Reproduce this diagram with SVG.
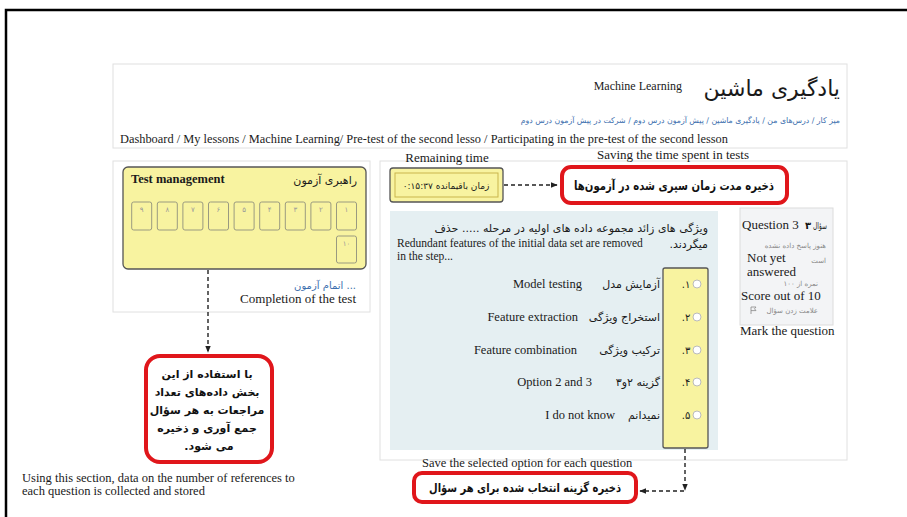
<svg xmlns="http://www.w3.org/2000/svg" width="907" height="517" viewBox="0 0 907 517">
<defs>
<style>
.en{font-family:"Liberation Serif","Times New Roman",serif;fill:#1a1a1a}
.fa{font-family:"DejaVu Sans",sans-serif;fill:#1a1a1a}
.fab{font-family:"DejaVu Sans",sans-serif;font-weight:bold;fill:#111}
.panel{fill:#fff;stroke:#e0e0e0;stroke-width:1}
.yel{fill:#f8f3a0;stroke:#555;stroke-width:1.3}
.red{fill:#fff;stroke:#e0161b;stroke-width:4}
.dash{fill:none;stroke:#222;stroke-width:1.4;stroke-dasharray:4 3}
.btn{fill:#f8f3a0;stroke:#9a9a80;stroke-width:1}
.dig{font-family:"DejaVu Sans",sans-serif;font-size:7px;fill:#999;text-anchor:middle}
.radio{fill:#fff;stroke:#bbb;stroke-width:1}
.gray{font-family:"DejaVu Sans",sans-serif;font-size:7px;fill:#888;text-anchor:end}
.blue{font-family:"DejaVu Sans",sans-serif;fill:#3d6fae}
</style>
<marker id="ah" viewBox="0 0 10 10" refX="9" refY="5" markerUnits="userSpaceOnUse" markerWidth="7" markerHeight="7" orient="auto"><path d="M0,1 L10,5 L0,9 z" fill="#222"/></marker>
</defs>
<rect x="0" y="0" width="907" height="517" fill="#fff"/>
<rect x="6" y="10" width="920" height="530" fill="none" stroke="#000" stroke-width="2.5"/>

<g id="header">
<rect class="panel" x="113" y="64" width="734" height="84"/>
<text class="fa" x="840" y="96" font-size="22" text-anchor="end">یادگیری ماشین</text>
<text class="en" x="682" y="90" font-size="12" text-anchor="end">Machine Learning</text>
<text class="blue" x="840" y="123" font-size="7.8" text-anchor="end">میز کار / درس‌های من / یادگیری ماشین / پیش آزمون درس دوم / شرکت در پیش آزمون درس دوم</text>
<text class="en" x="120" y="143" font-size="13" textLength="608" lengthAdjust="spacingAndGlyphs">Dashboard / My lessons / Machine Learning/ Pre-test of the second lesso / Participating in the pre-test of the second lesson</text>
</g>

<g id="test-management">
<rect class="panel" x="113" y="161" width="257" height="151"/>
<rect class="yel" x="123" y="167" width="243" height="102" rx="5"/>
<text class="en" x="131" y="183" font-size="12.5" font-weight="bold">Test management</text>
<text class="fa" x="357" y="184" font-size="11" fill="#444" text-anchor="end">راهبری آزمون</text>
<g>
<rect class="btn" x="131.7" y="202" width="20" height="28" rx="2"/><text class="dig" x="141.7" y="212">۹</text>
<rect class="btn" x="157.3" y="202" width="20" height="28" rx="2"/><text class="dig" x="167.3" y="212">۸</text>
<rect class="btn" x="182.9" y="202" width="20" height="28" rx="2"/><text class="dig" x="192.9" y="212">۷</text>
<rect class="btn" x="208.5" y="202" width="20" height="28" rx="2"/><text class="dig" x="218.5" y="212">۶</text>
<rect class="btn" x="234.1" y="202" width="20" height="28" rx="2"/><text class="dig" x="244.1" y="212">۵</text>
<rect class="btn" x="259.7" y="202" width="20" height="28" rx="2"/><text class="dig" x="269.7" y="212">۴</text>
<rect class="btn" x="285.3" y="202" width="20" height="28" rx="2" stroke="#4a4a30" stroke-width="2.5"/><text class="dig" x="295.3" y="212">۳</text>
<rect class="btn" x="310.9" y="202" width="20" height="28" rx="2"/><text class="dig" x="320.9" y="212">۲</text>
<rect class="btn" x="336.5" y="202" width="20" height="28" rx="2"/><text class="dig" x="346.5" y="212">۱</text>
<rect class="btn" x="336.5" y="236" width="20" height="27" rx="2"/><text class="dig" x="346.5" y="246">۱۰</text>
</g>
<text class="blue" x="356" y="289" font-size="10" text-anchor="end">اتمام آزمون ...</text>
<text class="en" x="356" y="303" font-size="13" text-anchor="end">Completion of the test</text>
</g>

<g id="references-note">
<rect class="red" x="146" y="356" width="126" height="106" rx="14"/>
<text class="fab" font-size="11" text-anchor="middle">
<tspan x="209" y="378">با استفاده از این</tspan>
<tspan x="209" y="396">بخش داده‌های تعداد</tspan>
<tspan x="209" y="414">مراجعات به هر سؤال</tspan>
<tspan x="209" y="432">جمع آوری و ذخیره</tspan>
<tspan x="209" y="450">می شود.&#x200F;</tspan>
</text>
<text class="en" x="22" y="482" font-size="12.5">Using this section, data on the number of references to</text>
<text class="en" x="22" y="495" font-size="12.5">each question is collected and stored</text>
</g>

<g id="quiz-panel">
<rect class="panel" x="380" y="161" width="467" height="299"/>
<text class="en" x="447" y="162" font-size="13" text-anchor="middle">Remaining time</text>
<text class="en" x="673" y="159" font-size="13" text-anchor="middle">Saving the time spent in tests</text>
</g>

<g id="timer">
<rect class="yel" x="390" y="168" width="113" height="34" rx="3"/>
<rect x="395" y="173" width="103" height="24" fill="none" stroke="#c9b54c" stroke-width="1"/>
<text class="fa" x="446" y="189" font-size="9" fill="#a08c3c" text-anchor="middle">زمان باقیمانده ۰:۱۵:۳۷</text>
</g>

<g id="time-note">
<rect class="red" x="562" y="167" width="225" height="36" rx="9"/>
<text class="fab" x="674" y="190" font-size="12.5" text-anchor="middle" textLength="200" lengthAdjust="spacingAndGlyphs">ذخیره مدت زمان سپری شده در آزمون‌ها</text>
</g>

<g id="question">
<rect x="390" y="211" width="328" height="239" fill="#e5eff2"/>
<text class="fa" x="708" y="232" font-size="11" text-anchor="end">ویژگی های زائد مجموعه داده های اولیه در مرحله ..... حذف</text>
<text class="fa" x="708" y="248" font-size="11" text-anchor="end">میگردند.&#x200F;</text>
<text class="en" x="397" y="247" font-size="11.5">Redundant features of the initial data set are removed</text>
<text class="en" x="397" y="260" font-size="11.5">in the step...</text>
</g>

<g id="options">
<rect class="yel" x="663" y="268" width="45" height="180" rx="2"/>
<g class="fa" font-size="10" fill="#666" text-anchor="middle">
<text x="686" y="288">.۱</text>
<text x="686" y="321">.۲</text>
<text x="686" y="354">.۳</text>
<text x="686" y="386">.۴</text>
<text x="686" y="419">.۵</text>
</g>
<circle class="radio" cx="697" cy="284" r="4"/>
<circle class="radio" cx="697" cy="317" r="4"/>
<circle class="radio" cx="697" cy="350" r="4"/>
<circle class="radio" cx="697" cy="382" r="4"/>
<circle class="radio" cx="697" cy="415" r="4"/>
<g class="fa" font-size="11" text-anchor="end">
<text x="660" y="288">آزمایش مدل</text>
<text x="660" y="321">استخراج ویژگی</text>
<text x="660" y="354">ترکیب ویژگی</text>
<text x="660" y="386">گزینه ۲و۳</text>
<text x="660" y="419">نمیدانم</text>
</g>
<g class="en" font-size="12.5" text-anchor="end">
<text x="582" y="288">Model testing</text>
<text x="578" y="321">Feature extraction</text>
<text x="577" y="354">Feature combination</text>
<text x="592" y="386">Option 2 and 3</text>
<text x="615" y="419">I do not know</text>
</g>
</g>

<g id="question-info">
<rect x="740" y="208" width="93" height="117" fill="#f3f4f6" stroke="#dcdcdc" stroke-width="1"/>
<text class="en" x="742" y="229" font-size="13">Question 3</text>
<text class="fab" x="811" y="229" font-size="10" text-anchor="end">۳</text>
<text class="fa" x="827" y="229" font-size="9" fill="#333" text-anchor="end" textLength="14" lengthAdjust="spacingAndGlyphs">سؤال</text>
<text class="gray" x="826" y="248">هنوز پاسخ داده نشده</text>
<text class="gray" x="826" y="263">است</text>
<text class="en" x="747" y="262" font-size="13">Not yet</text>
<text class="en" x="747" y="276" font-size="13">answered</text>
<text class="gray" x="818" y="286">نمره از ۱۰۰</text>
<text class="en" x="741" y="300" font-size="13">Score out of 10</text>
<text class="gray" x="818" y="313">علامت زدن سؤال</text>
<path d="M751,307 V314 M751,307 h5 l-1.5,1.8 l1.5,1.8 h-5" fill="none" stroke="#888" stroke-width="0.8"/>
<text class="en" x="740" y="335" font-size="13">Mark the question</text>
</g>

<g id="option-note">
<text class="en" x="422" y="467" font-size="12.5">Save the selected option for each question</text>
<rect class="red" x="414" y="473" width="222" height="29" rx="8"/>
<text class="fab" x="525" y="492" font-size="12" text-anchor="middle" textLength="192" lengthAdjust="spacingAndGlyphs">ذخیره گزینه انتخاب شده برای هر سؤال</text>
</g>

<g id="connectors">
<path class="dash" d="M208,270 V352" marker-end="url(#ah)"/>
<path class="dash" d="M504,185 H557" marker-end="url(#ah)"/>
<path class="dash" d="M685,449 V490" marker-end="url(#ah)"/>
<path class="dash" d="M684,491 H640" marker-end="url(#ah)"/>
</g>
</svg>
